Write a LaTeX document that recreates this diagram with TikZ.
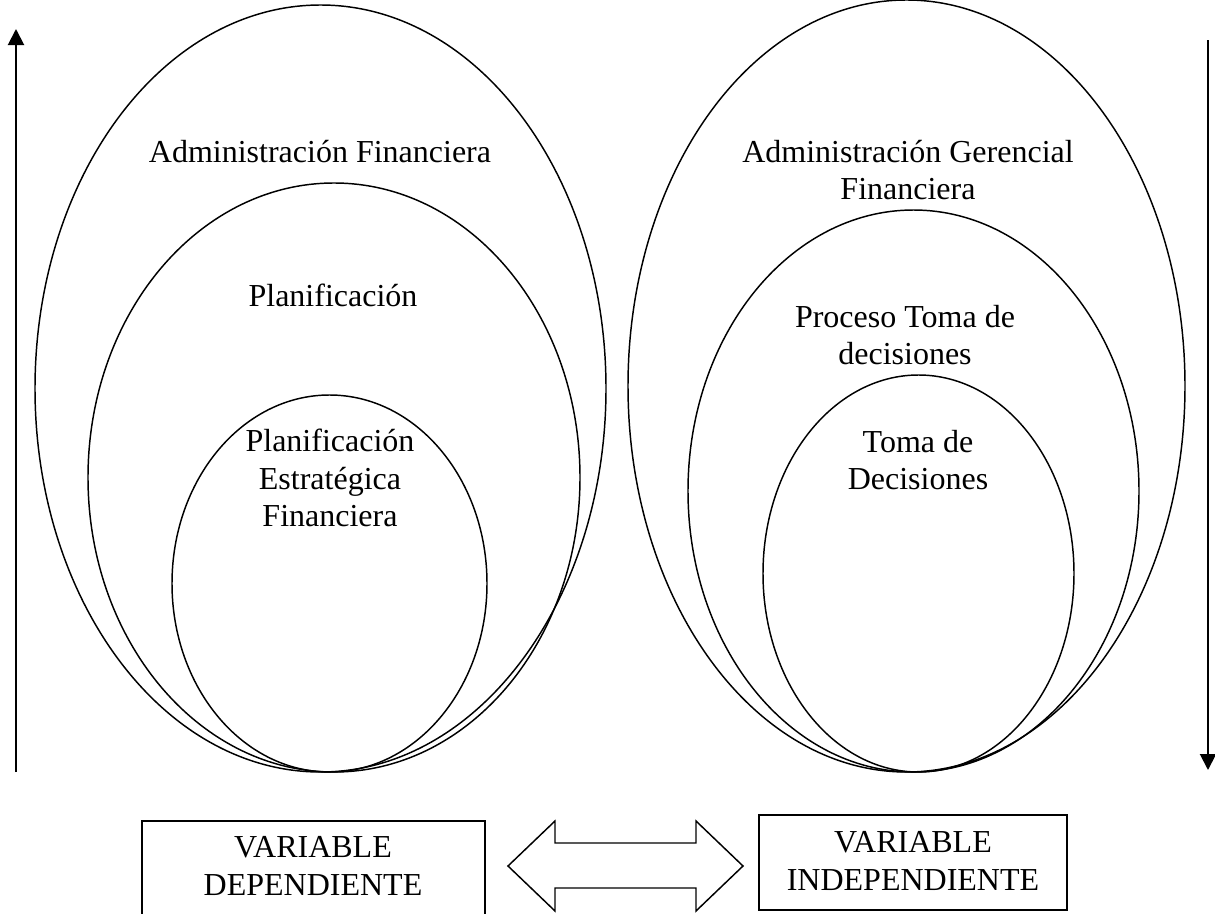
\documentclass[tikz,border=0pt]{standalone}
\usepackage{fontspec}
\setmainfont{Liberation Serif}
\usetikzlibrary{arrows.meta}
\begin{document}
\begin{tikzpicture}[x=0.75pt,y=-0.75pt,
  ring/.style={draw,line width=1.1pt},
  lbl/.style={align=center,font=\fontsize{24}{28}\selectfont,inner sep=0pt},
  varbox/.style={draw,line width=1.5pt},
  vline/.style={line width=1.5pt,-{Triangle[length=12pt,width=12pt]}}]
\useasboundingbox (0,0) rectangle (1215,914);
\clip (0,0) rectangle (1215,914);
% left ellipses
\draw[ring] (320.5,388.5) ellipse [x radius=285.5, y radius=383.5];
\draw[ring] (334,477.5) ellipse [x radius=246, y radius=294.5];
\draw[ring] (329.5,583.5) ellipse [x radius=157.5, y radius=188.5];
% right ellipses
\draw[ring] (906.5,386) ellipse [x radius=278.5, y radius=386];
\draw[ring] (913.5,491) ellipse [x radius=225.5, y radius=281];
\draw[ring] (918.5,573.5) ellipse [x radius=155.5, y radius=198.5];
% labels
\node[lbl] (af) at (320,152) {Administración Financiera};
\node[lbl] (pl) at (333,295) {Planificación};
\node[lbl] (pef) at (330,478) {Planificación\\Estratégica\\Financiera};
\node[lbl] (agf) at (908,170) {Administración Gerencial\\Financiera};
\node[lbl] (ptd) at (905,335) {Proceso Toma de\\decisiones};
\node[lbl] (td) at (918,460) {Toma de\\Decisiones};
% side arrows
\coordinate (la0) at (16,772);
\coordinate (la1) at (16,29);
\coordinate (ra0) at (1208,40);
\coordinate (ra1) at (1208,770);
\draw[vline] (la0) -- (la1);
\draw[vline] (ra0) -- (ra1);
% boxes
\draw[varbox] (142,821) rectangle (485,930);
\node[lbl] (vd) at (313,866) {VARIABLE\\DEPENDIENTE};
\draw[varbox] (759,815) rectangle (1067,910);
\node[lbl] (vi) at (913,861) {VARIABLE\\INDEPENDIENTE};
% double arrow
\draw[line width=1.1pt,line join=miter] (508,866) -- (555,821) -- (555,843) -- (696,843) -- (696,821) -- (743,866) -- (696,911) -- (696,888) -- (555,888) -- (555,911) -- cycle;
\end{tikzpicture}
\end{document}
